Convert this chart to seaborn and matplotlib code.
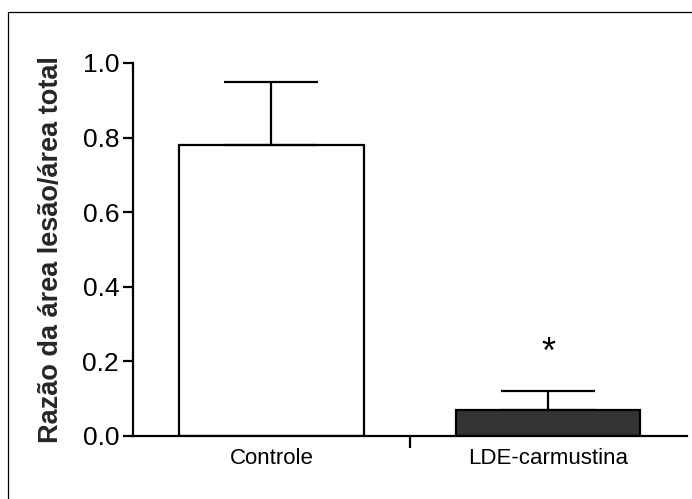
import matplotlib
matplotlib.use("Agg")
import matplotlib.pyplot as plt
from matplotlib.patches import Rectangle
from matplotlib.ticker import FixedLocator
import seaborn as sns
import pandas as pd

# Group means and upper error (SEM) for the lesion-area ratio
groups = ["Controle", "LDE-carmustina"]
means = [0.78, 0.07]
sems = [0.17, 0.05]
bar_colors = ["#ffffff", "#333333"]
y_ticks = [0.0, 0.2, 0.4, 0.6, 0.8, 1.0]
significance = ["", "*"]

sns.set_theme(style="ticks")
plt.rcParams["font.family"] = ["Liberation Sans", "DejaVu Sans"]

df = pd.DataFrame({"grupo": groups, "razao": means})

fig = plt.figure(figsize=(6.92, 4.99), dpi=100)
ax = fig.add_axes([0.1922, 0.1263, 0.7999, 0.7475])

sns.barplot(data=df, x="grupo", y="razao", hue="grupo", palette=bar_colors,
            width=0.667, edgecolor="black", linewidth=1.6, errorbar=None,
            legend=False, ax=ax)

# upper-only error bars
xpos = list(range(len(groups)))
ax.errorbar(xpos, means, yerr=[[0] * len(sems), sems], fmt="none",
            ecolor="black", elinewidth=1.6, capsize=33.5, capthick=1.6,
            zorder=5)

for x, m, s, mark in zip(xpos, means, sems, significance):
    if mark:
        ax.text(x, m + s + 0.10, mark, ha="center", va="center",
                fontsize=26, color="black")

ax.set_xlim(-0.5, 1.5)
ax.set_ylim(0, 1.0)
ax.set_yticks(y_ticks)
ax.set_yticklabels([f"{v:.1f}" for v in y_ticks])
ax.set_xlabel("")
ax.set_ylabel("Razão da área lesão/área total", fontsize=19.5,
              fontweight="bold")
ax.yaxis.set_label_coords(-0.125, 0.5)

sns.despine(ax=ax, top=True, right=True)
for side in ("left", "bottom"):
    ax.spines[side].set_linewidth(1.6)
    ax.spines[side].set_color("black")

ax.tick_params(axis="y", which="major", length=7, width=1.6, pad=3,
               labelsize=19, colors="black", direction="out")
ax.tick_params(axis="x", which="major", length=0, pad=9, labelsize=16,
               labelcolor="black")
ax.xaxis.set_minor_locator(FixedLocator([0.5]))
ax.tick_params(axis="x", which="minor", length=8.5, width=1.6,
               color="black", direction="out")

# outer frame of the figure panel
fig.patches.append(Rectangle((8 / 692, -0.1), 1.2, 0.975 + 0.1,
                             transform=fig.transFigure, fill=False,
                             edgecolor="black", linewidth=0.9))

fig.savefig("out.png", dpi=100)
